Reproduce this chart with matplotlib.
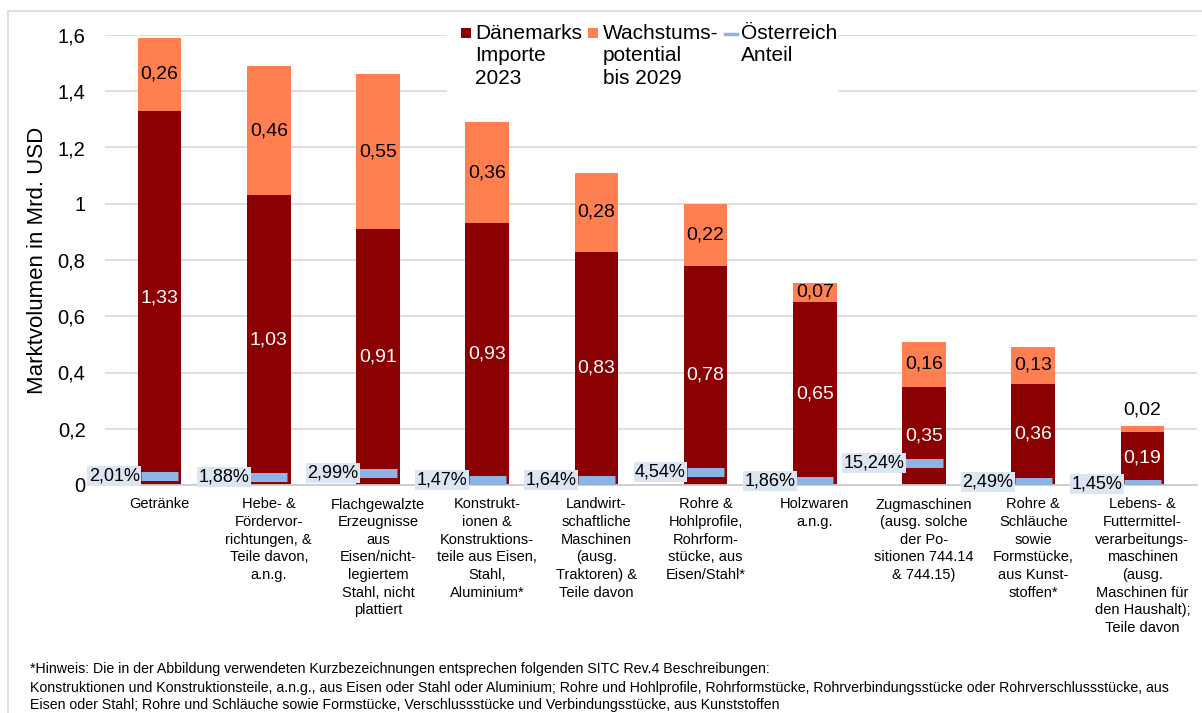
import numpy as np
import matplotlib
matplotlib.use("Agg")
import matplotlib.pyplot as plt
from matplotlib.lines import Line2D
from matplotlib.patches import Rectangle
from matplotlib.ticker import FuncFormatter

plt.rcParams['font.family'] = ['Liberation Sans', 'DejaVu Sans']

# data
categories = [
    "Getränke",
    "Hebe- &\nFördervor-\nrichtungen, &\nTeile davon,\na.n.g.",
    "Flachgewalzte\nErzeugnisse\naus\nEisen/nicht-\nlegiertem\nStahl, nicht\nplattiert",
    "Konstrukt-\nionen &\nKonstruktions-\nteile aus Eisen,\nStahl,\nAluminium*",
    "Landwirt-\nschaftliche\nMaschinen\n(ausg.\nTraktoren) &\nTeile davon",
    "Rohre &\nHohlprofile,\nRohrform-\nstücke, aus\nEisen/Stahl*",
    "Holzwaren\na.n.g.",
    "Zugmaschinen\n(ausg. solche\nder Po-\nsitionen 744.14\n& 744.15)",
    "Rohre &\nSchläuche\nsowie\nFormstücke,\naus Kunst-\nstoffen*",
    "Lebens- &\nFuttermittel-\nverarbeitungs-\nmaschinen\n(ausg.\nMaschinen für\nden Haushalt);\nTeile davon",
]
imports_2023 = [1.33, 1.03, 0.91, 0.93, 0.83, 0.78, 0.65, 0.35, 0.36, 0.19]
growth_2029 = [0.26, 0.46, 0.55, 0.36, 0.28, 0.22, 0.07, 0.16, 0.13, 0.02]
austria_share = [2.01, 1.88, 2.99, 1.47, 1.64, 4.54, 1.86, 15.24, 2.49, 1.45]

footnote = [
    "*Hinweis: Die in der Abbildung verwendeten Kurzbezeichnungen entsprechen folgenden SITC Rev.4 Beschreibungen:",
    "Konstruktionen und Konstruktionsteile, a.n.g., aus Eisen oder Stahl oder Aluminium; Rohre und Hohlprofile, "
    "Rohrformstücke, Rohrverbindungsstücke oder Rohrverschlussstücke, aus",
    "Eisen oder Stahl; Rohre und Schläuche sowie Formstücke, Verschlussstücke und Verbindungsstücke, aus Kunststoffen",
]

DARK = '#8B0000'
ORANGE = '#FF7F50'
BLUE = '#8DB4E2'
LABEL_BG = '#DCE6F2'
GRID = '#D9D9D9'

W, H = 1202, 713
fig = plt.figure(figsize=(W / 100, H / 100), dpi=100)
ax = fig.add_axes([105 / W, 1 - 485 / H, 1092 / W, 450 / H])

x = np.arange(len(categories))
imp = np.array(imports_2023)
gr = np.array(growth_2029)
total = imp + gr
# Austrian share is drawn as absolute value of the total market
aut = np.array(austria_share) / 100.0 * total

ax.bar(x, imp, width=0.4, color=DARK, zorder=2)
ax.bar(x, gr, width=0.4, bottom=imp, color=ORANGE, zorder=2)
ax.hlines(aut, x - 0.17, x + 0.17, colors=BLUE, linewidth=6.5, zorder=3, capstyle='butt')

fmt = lambda v: f"{v:.2f}".replace('.', ',')
for i in range(len(x)):
    ax.text(x[i], imp[i] / 2, fmt(imp[i]), color='white', ha='center', va='center', fontsize=14, zorder=4)
    if gr[i] < 0.05:
        ax.text(x[i], total[i] + 0.057, fmt(gr[i]), color='black', ha='center', va='center', fontsize=14, zorder=4)
    else:
        ax.text(x[i], imp[i] + gr[i] / 2, fmt(gr[i]), color='black', ha='center', va='center', fontsize=14, zorder=4)
    ax.text(x[i] - 0.18, aut[i], f"{austria_share[i]:.2f}%".replace('.', ','), ha='right', va='center',
            fontsize=13, zorder=5, bbox=dict(boxstyle='square,pad=0.08', fc=LABEL_BG, ec='none'))

ax.set_xlim(-0.5, len(x) - 0.5)
ax.set_ylim(0, 1.6)
ax.set_yticks(np.arange(0, 1.61, 0.2))
ax.yaxis.set_major_formatter(FuncFormatter(lambda v, p: f"{v:.1f}".rstrip('0').rstrip('.').replace('.', ',') if v else "0"))
ax.tick_params(axis='y', length=0, pad=14, labelsize=14.5)
ax.set_xticks(x)
ax.set_xticklabels(categories, fontsize=10.5, linespacing=1.33)
ax.tick_params(axis='x', length=0, pad=9)
ax.grid(axis='y', color=GRID, linewidth=1.2, zorder=0)
ax.set_axisbelow(True)
for s in ['top', 'left', 'right']:
    ax.spines[s].set_visible(False)
ax.spines['bottom'].set_color('#CCCCCC')
ax.spines['bottom'].set_linewidth(1.3)
ax.set_ylabel("Marktvolumen in Mrd. USD", fontsize=16)
ax.yaxis.set_label_coords(-57 / 1092, 0.5)

# legend drawn by hand (handles sit on the first text line)
fig.patches.append(Rectangle((447 / W, 1 - 95 / H), 391 / W, 75 / H, transform=fig.transFigure,
                             fc='white', ec='none', zorder=5))
fig.patches.append(Rectangle((461 / W, 1 - 38 / H), 10 / W, 10 / H, transform=fig.transFigure,
                             fc=DARK, ec='none', zorder=6))
fig.patches.append(Rectangle((588 / W, 1 - 38 / H), 10 / W, 10 / H, transform=fig.transFigure,
                             fc=ORANGE, ec='none', zorder=6))
fig.lines.append(Line2D([725 / W, 737 / W], [1 - 34 / H, 1 - 34 / H], transform=fig.transFigure,
                        color=BLUE, linewidth=2.5, zorder=6))
fig.text(475 / W, 1 - 24 / H, "Dänemarks\nImporte\n2023", fontsize=15, va='top', ha='left', linespacing=1.22, zorder=7)
fig.text(603 / W, 1 - 24 / H, "Wachstums-\npotential\nbis 2029", fontsize=15, va='top', ha='left', linespacing=1.22, zorder=7)
fig.text(741 / W, 1 - 24 / H, "Österreich\nAnteil", fontsize=15, va='top', ha='left', linespacing=1.22, zorder=7)

# outer frame (left and top edge only visible)
fig.lines.append(Line2D([8 / W, 8 / W, 1.0], [0.0, 1 - 11 / H, 1 - 11 / H], transform=fig.transFigure,
                        color=GRID, linewidth=1.2))

# footnote, fitted to the width of the reference text
fn_y = [669, 688, 705]
texts = [fig.text(30 / W, 1 - yy / H, line, fontsize=10, va='center', ha='left',
                  family=['Liberation Sans Narrow', 'Liberation Sans']) for line, yy in zip(footnote, fn_y)]
renderer = fig.canvas.get_renderer()
w2 = texts[1].get_window_extent(renderer).width
scale = 1142.0 / w2
for t in texts:
    t.set_fontsize(10 * scale)

fig.savefig("out.png", dpi=100)
